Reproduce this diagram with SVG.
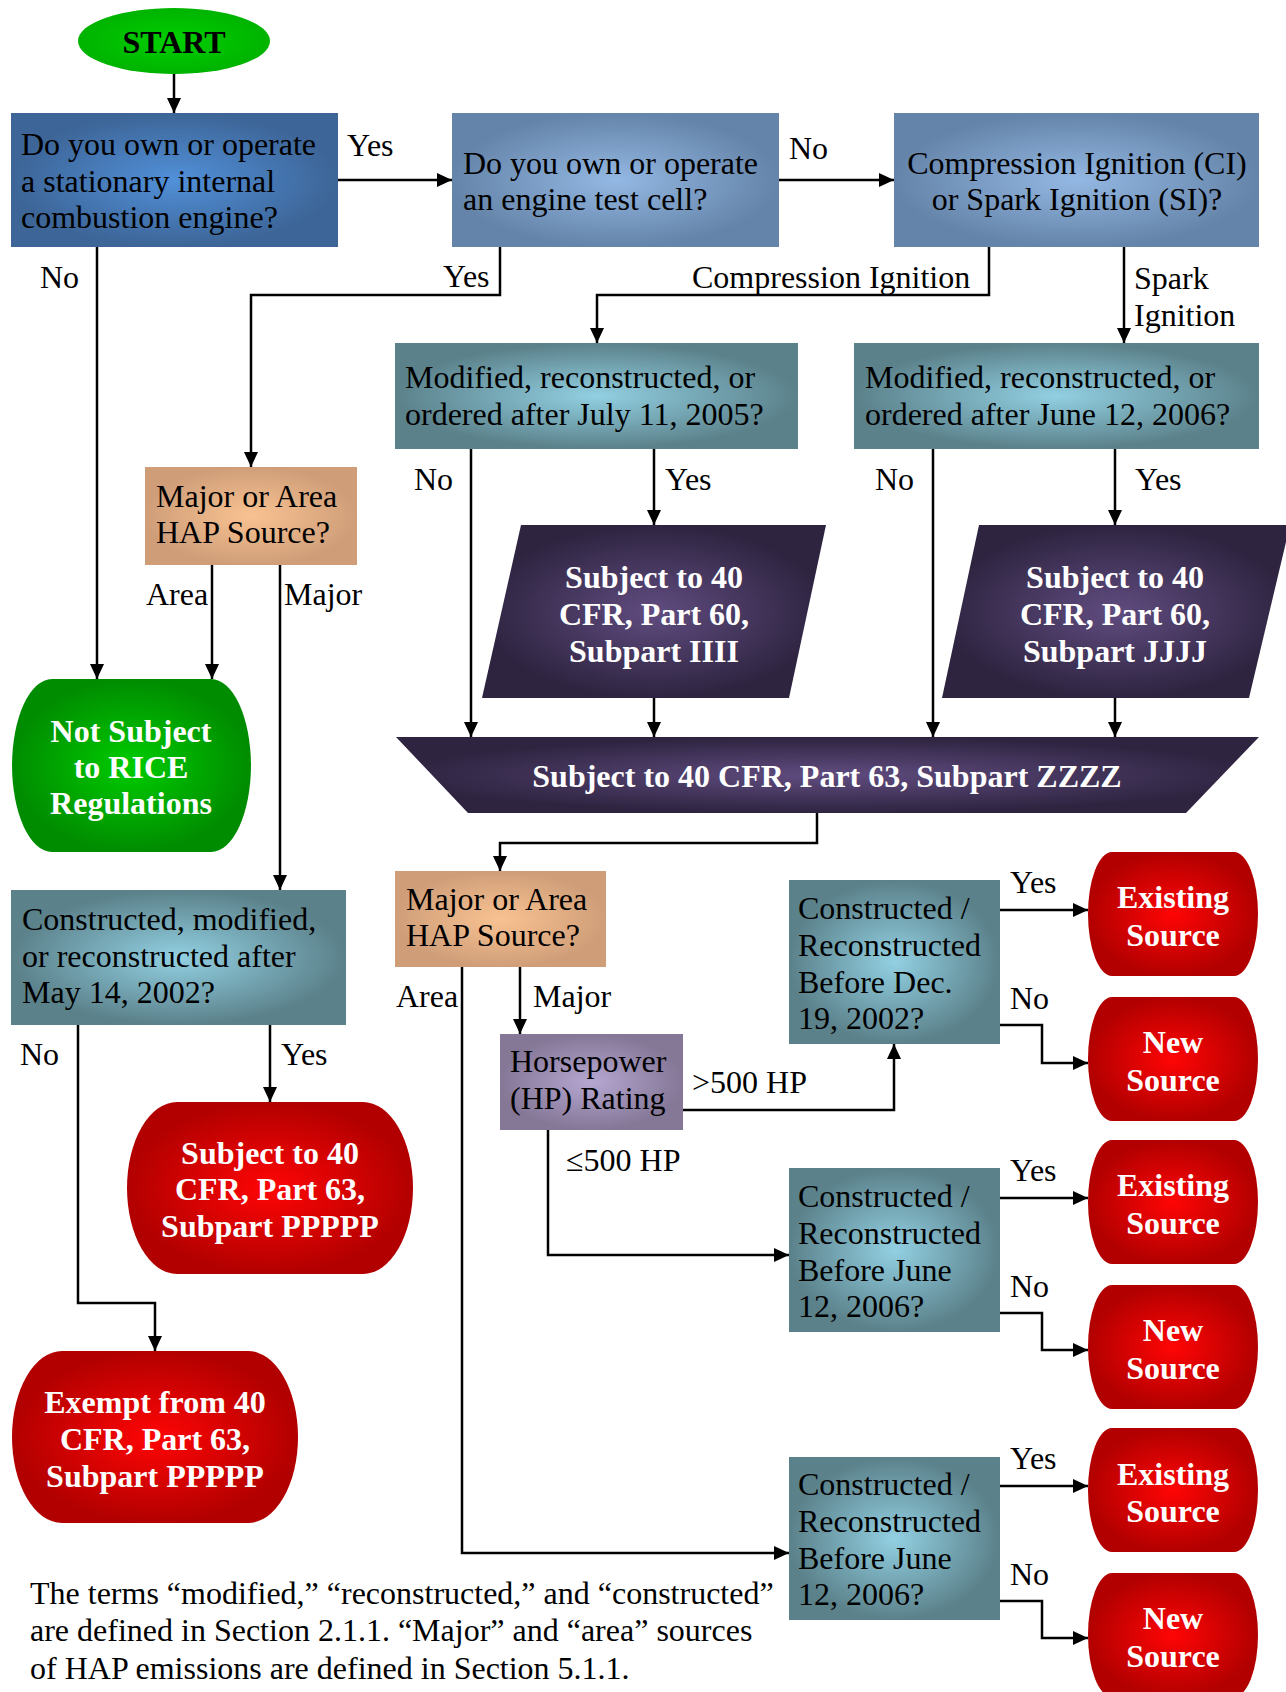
<svg xmlns="http://www.w3.org/2000/svg" width="1286" height="1692" viewBox="0 0 1286 1692">
<defs>
<radialGradient id="gBlue"><stop offset="0" stop-color="#5190d9"/><stop offset="1" stop-color="#3d6597"/></radialGradient>
<radialGradient id="gLBlue"><stop offset="0" stop-color="#93b8e3"/><stop offset="1" stop-color="#6584a9"/></radialGradient>
<radialGradient id="gTeal"><stop offset="0" stop-color="#92d0e2"/><stop offset="1" stop-color="#5b818a"/></radialGradient>
<radialGradient id="gPeach"><stop offset="0" stop-color="#f9c291"/><stop offset="1" stop-color="#cf9e79"/></radialGradient>
<radialGradient id="gPurp"><stop offset="0" stop-color="#604c80"/><stop offset="1" stop-color="#2e2440"/></radialGradient>
<radialGradient id="gRed"><stop offset="0" stop-color="#ff0505"/><stop offset="1" stop-color="#b20000"/></radialGradient>
<radialGradient id="gGreen"><stop offset="0" stop-color="#00cc00"/><stop offset="1" stop-color="#008c00"/></radialGradient>
<radialGradient id="gStart"><stop offset="0" stop-color="#00cf00"/><stop offset="1" stop-color="#00b300"/></radialGradient>
<radialGradient id="gHP"><stop offset="0" stop-color="#b5a7d1"/><stop offset="1" stop-color="#857796"/></radialGradient>
<marker id="ah" markerUnits="userSpaceOnUse" markerWidth="15" markerHeight="14" refX="15" refY="7" orient="auto"><path d="M0,0 L15,7 L0,14 Z" fill="#000"/></marker>
</defs>
<style>
text{font-family:"Liberation Serif","Times New Roman",serif;font-size:32px;fill:#000}
.w{fill:#fff;font-weight:bold}
.b{font-weight:bold}
.c{text-anchor:middle}
.ln{fill:none;stroke:#000;stroke-width:2.5;marker-end:url(#ah)}
</style>
<rect width="1286" height="1692" fill="#fff"/>

<g id="connectors">
<path class="ln" d="M174,74 V113"/>
<path class="ln" d="M338,180 H452"/>
<path class="ln" d="M779,180 H894"/>
<path class="ln" d="M97,247 V679"/>
<path class="ln" d="M500,247 V295 H251 V467"/>
<path class="ln" d="M989,247 V295 H597 V343"/>
<path class="ln" d="M1124,247 V343"/>
<path class="ln" d="M471,449 V737"/>
<path class="ln" d="M654,449 V525"/>
<path class="ln" d="M933,449 V737"/>
<path class="ln" d="M1115,449 V525"/>
<path class="ln" d="M654,698 V737"/>
<path class="ln" d="M1115,698 V737"/>
<path class="ln" d="M817,813 V843 H500 V871"/>
<path class="ln" d="M212,565 V679"/>
<path class="ln" d="M280,565 V890"/>
<path class="ln" d="M78,1025 V1303 H155 V1351"/>
<path class="ln" d="M270,1025 V1102"/>
<path class="ln" d="M462,967 V1553 H789"/>
<path class="ln" d="M520,967 V1034"/>
<path class="ln" d="M683,1110 H894 V1044"/>
<path class="ln" d="M548,1130 V1255 H789"/>
<path class="ln" d="M1000,910 H1088"/>
<path class="ln" d="M1000,1025 H1042 V1063 H1088"/>
<path class="ln" d="M1000,1198 H1088"/>
<path class="ln" d="M1000,1313 H1042 V1350 H1088"/>
<path class="ln" d="M1000,1486 H1088"/>
<path class="ln" d="M1000,1601 H1042 V1638 H1088"/>
<text x="347" y="156">Yes</text>
<text x="789" y="159">No</text>
<text x="40" y="288">No</text>
<text x="443" y="287">Yes</text>
<text x="692" y="288">Compression Ignition</text>
<text x="1134" y="289">Spark</text>
<text x="1134" y="326">Ignition</text>
<text x="414" y="490">No</text>
<text x="665" y="490">Yes</text>
<text x="875" y="490">No</text>
<text x="1135" y="490">Yes</text>
<text x="146" y="605">Area</text>
<text x="284" y="605">Major</text>
<text x="20" y="1065">No</text>
<text x="281" y="1065">Yes</text>
<text x="396" y="1007">Area</text>
<text x="533" y="1007">Major</text>
<text x="692" y="1093">&gt;500 HP</text>
<text x="566" y="1171">≤500 HP</text>
<text x="1010" y="893">Yes</text>
<text x="1010" y="1009">No</text>
<text x="1010" y="1181">Yes</text>
<text x="1010" y="1297">No</text>
<text x="1010" y="1469">Yes</text>
<text x="1010" y="1585">No</text>
</g>

<g id="start">
<ellipse cx="174" cy="41" rx="96" ry="33" fill="url(#gStart)"/>
<text class="b c" x="174" y="53">START</text>
</g>

<g id="q-engine">
<rect x="11" y="113" width="327" height="134" fill="url(#gBlue)"/>
<text x="21" y="155">Do you own or operate</text>
<text x="21" y="192">a stationary internal</text>
<text x="21" y="228">combustion engine?</text>
</g>

<g id="q-testcell">
<rect x="452" y="113" width="327" height="134" fill="url(#gLBlue)"/>
<text x="463" y="174">Do you own or operate</text>
<text x="463" y="210">an engine test cell?</text>
</g>

<g id="q-cisi">
<rect x="894" y="113" width="365" height="134" fill="url(#gLBlue)"/>
<text class="c" x="1077" y="174">Compression Ignition (CI)</text>
<text class="c" x="1077" y="210">or Spark Ignition (SI)?</text>
</g>

<g id="q-july">
<rect x="395" y="343" width="403" height="106" fill="url(#gTeal)"/>
<text x="405" y="388">Modified, reconstructed, or</text>
<text x="405" y="425">ordered after July 11, 2005?</text>
</g>

<g id="q-june">
<rect x="854" y="343" width="405" height="106" fill="url(#gTeal)"/>
<text x="865" y="388">Modified, reconstructed, or</text>
<text x="865" y="425">ordered after June 12, 2006?</text>
</g>

<g id="q-hap1">
<rect x="145" y="467" width="212" height="98" fill="url(#gPeach)"/>
<text x="156" y="507">Major or Area</text>
<text x="156" y="543">HAP Source?</text>
</g>

<g id="r-iiii">
<polygon points="521,525 826,525 789,698 482,698" fill="url(#gPurp)"/>
<text class="w c" x="654" y="588">Subject to 40</text>
<text class="w c" x="654" y="625">CFR, Part 60,</text>
<text class="w c" x="654" y="662">Subpart IIII</text>
</g>

<g id="r-jjjj">
<polygon points="979,525 1290,525 1249,698 942,698" fill="url(#gPurp)"/>
<text class="w c" x="1115" y="588">Subject to 40</text>
<text class="w c" x="1115" y="625">CFR, Part 60,</text>
<text class="w c" x="1115" y="662">Subpart JJJJ</text>
</g>

<g id="r-zzzz">
<polygon points="396,737 1259,737 1186,813 468,813" fill="url(#gPurp)"/>
<text class="w c" x="827" y="787">Subject to 40 CFR, Part 63, Subpart ZZZZ</text>
</g>

<g id="r-notsubject">
<path d="M52,679 H211 A40,86.5 0 0 1 211,852 H52 A40,86.5 0 0 1 52,679 Z" fill="url(#gGreen)"/>
<text class="w c" x="131" y="742">Not Subject</text>
<text class="w c" x="131" y="778">to RICE</text>
<text class="w c" x="131" y="814">Regulations</text>
</g>

<g id="q-may">
<rect x="11" y="890" width="335" height="135" fill="url(#gTeal)"/>
<text x="22" y="930">Constructed, modified,</text>
<text x="22" y="967">or reconstructed after</text>
<text x="22" y="1003">May 14, 2002?</text>
</g>

<g id="r-pppppsub">
<path d="M177,1102 H363 A50,86 0 0 1 363,1274 H177 A50,86 0 0 1 177,1102 Z" fill="url(#gRed)"/>
<text class="w c" x="270" y="1164">Subject to 40</text>
<text class="w c" x="270" y="1200">CFR, Part 63,</text>
<text class="w c" x="270" y="1237">Subpart PPPPP</text>
</g>

<g id="r-pppppex">
<path d="M62,1351 H248 A50,86 0 0 1 248,1523 H62 A50,86 0 0 1 62,1351 Z" fill="url(#gRed)"/>
<text class="w c" x="155" y="1413">Exempt from 40</text>
<text class="w c" x="155" y="1450">CFR, Part 63,</text>
<text class="w c" x="155" y="1487">Subpart PPPPP</text>
</g>

<g id="q-hap2">
<rect x="395" y="871" width="211" height="96" fill="url(#gPeach)"/>
<text x="406" y="910">Major or Area</text>
<text x="406" y="946">HAP Source?</text>
</g>

<g id="q-hp">
<rect x="500" y="1034" width="183" height="96" fill="url(#gHP)"/>
<text x="510" y="1072">Horsepower</text>
<text x="510" y="1109">(HP) Rating</text>
</g>

<g id="q-dec">
<rect x="789" y="880" width="211" height="164" fill="url(#gTeal)"/>
<text x="798" y="919">Constructed /</text>
<text x="798" y="956">Reconstructed</text>
<text x="798" y="993">Before Dec.</text>
<text x="798" y="1029">19, 2002?</text>
</g>

<g id="q-june-mid">
<rect x="789" y="1168" width="211" height="164" fill="url(#gTeal)"/>
<text x="798" y="1207">Constructed /</text>
<text x="798" y="1244">Reconstructed</text>
<text x="798" y="1281">Before June</text>
<text x="798" y="1317">12, 2006?</text>
</g>

<g id="q-june-bot">
<rect x="789" y="1457" width="211" height="163" fill="url(#gTeal)"/>
<text x="798" y="1495">Constructed /</text>
<text x="798" y="1532">Reconstructed</text>
<text x="798" y="1569">Before June</text>
<text x="798" y="1605">12, 2006?</text>
</g>

<g id="r-existing1">
<path d="M1112,852 H1234 A24,62 0 0 1 1234,976 H1112 A24,62 0 0 1 1112,852 Z" fill="url(#gRed)"/>
<text class="w c" x="1173" y="908">Existing</text>
<text class="w c" x="1173" y="946">Source</text>
</g>
<g id="r-new1">
<path d="M1112,997 H1234 A24,62 0 0 1 1234,1121 H1112 A24,62 0 0 1 1112,997 Z" fill="url(#gRed)"/>
<text class="w c" x="1173" y="1053">New</text>
<text class="w c" x="1173" y="1091">Source</text>
</g>
<g id="r-existing2">
<path d="M1112,1140 H1234 A24,62 0 0 1 1234,1264 H1112 A24,62 0 0 1 1112,1140 Z" fill="url(#gRed)"/>
<text class="w c" x="1173" y="1196">Existing</text>
<text class="w c" x="1173" y="1234">Source</text>
</g>
<g id="r-new2">
<path d="M1112,1285 H1234 A24,62 0 0 1 1234,1409 H1112 A24,62 0 0 1 1112,1285 Z" fill="url(#gRed)"/>
<text class="w c" x="1173" y="1341">New</text>
<text class="w c" x="1173" y="1379">Source</text>
</g>
<g id="r-existing3">
<path d="M1112,1428 H1234 A24,62 0 0 1 1234,1552 H1112 A24,62 0 0 1 1112,1428 Z" fill="url(#gRed)"/>
<text class="w c" x="1173" y="1485">Existing</text>
<text class="w c" x="1173" y="1522">Source</text>
</g>
<g id="r-new3">
<path d="M1112,1573 H1234 A24,62 0 0 1 1234,1697 H1112 A24,62 0 0 1 1112,1573 Z" fill="url(#gRed)"/>
<text class="w c" x="1173" y="1629">New</text>
<text class="w c" x="1173" y="1667">Source</text>
</g>

<g id="footnote">
<text x="30" y="1604">The terms “modified,” “reconstructed,” and “constructed”</text>
<text x="30" y="1641">are defined in Section 2.1.1. “Major” and “area” sources</text>
<text x="30" y="1679">of HAP emissions are defined in Section 5.1.1.</text>
</g>
</svg>
